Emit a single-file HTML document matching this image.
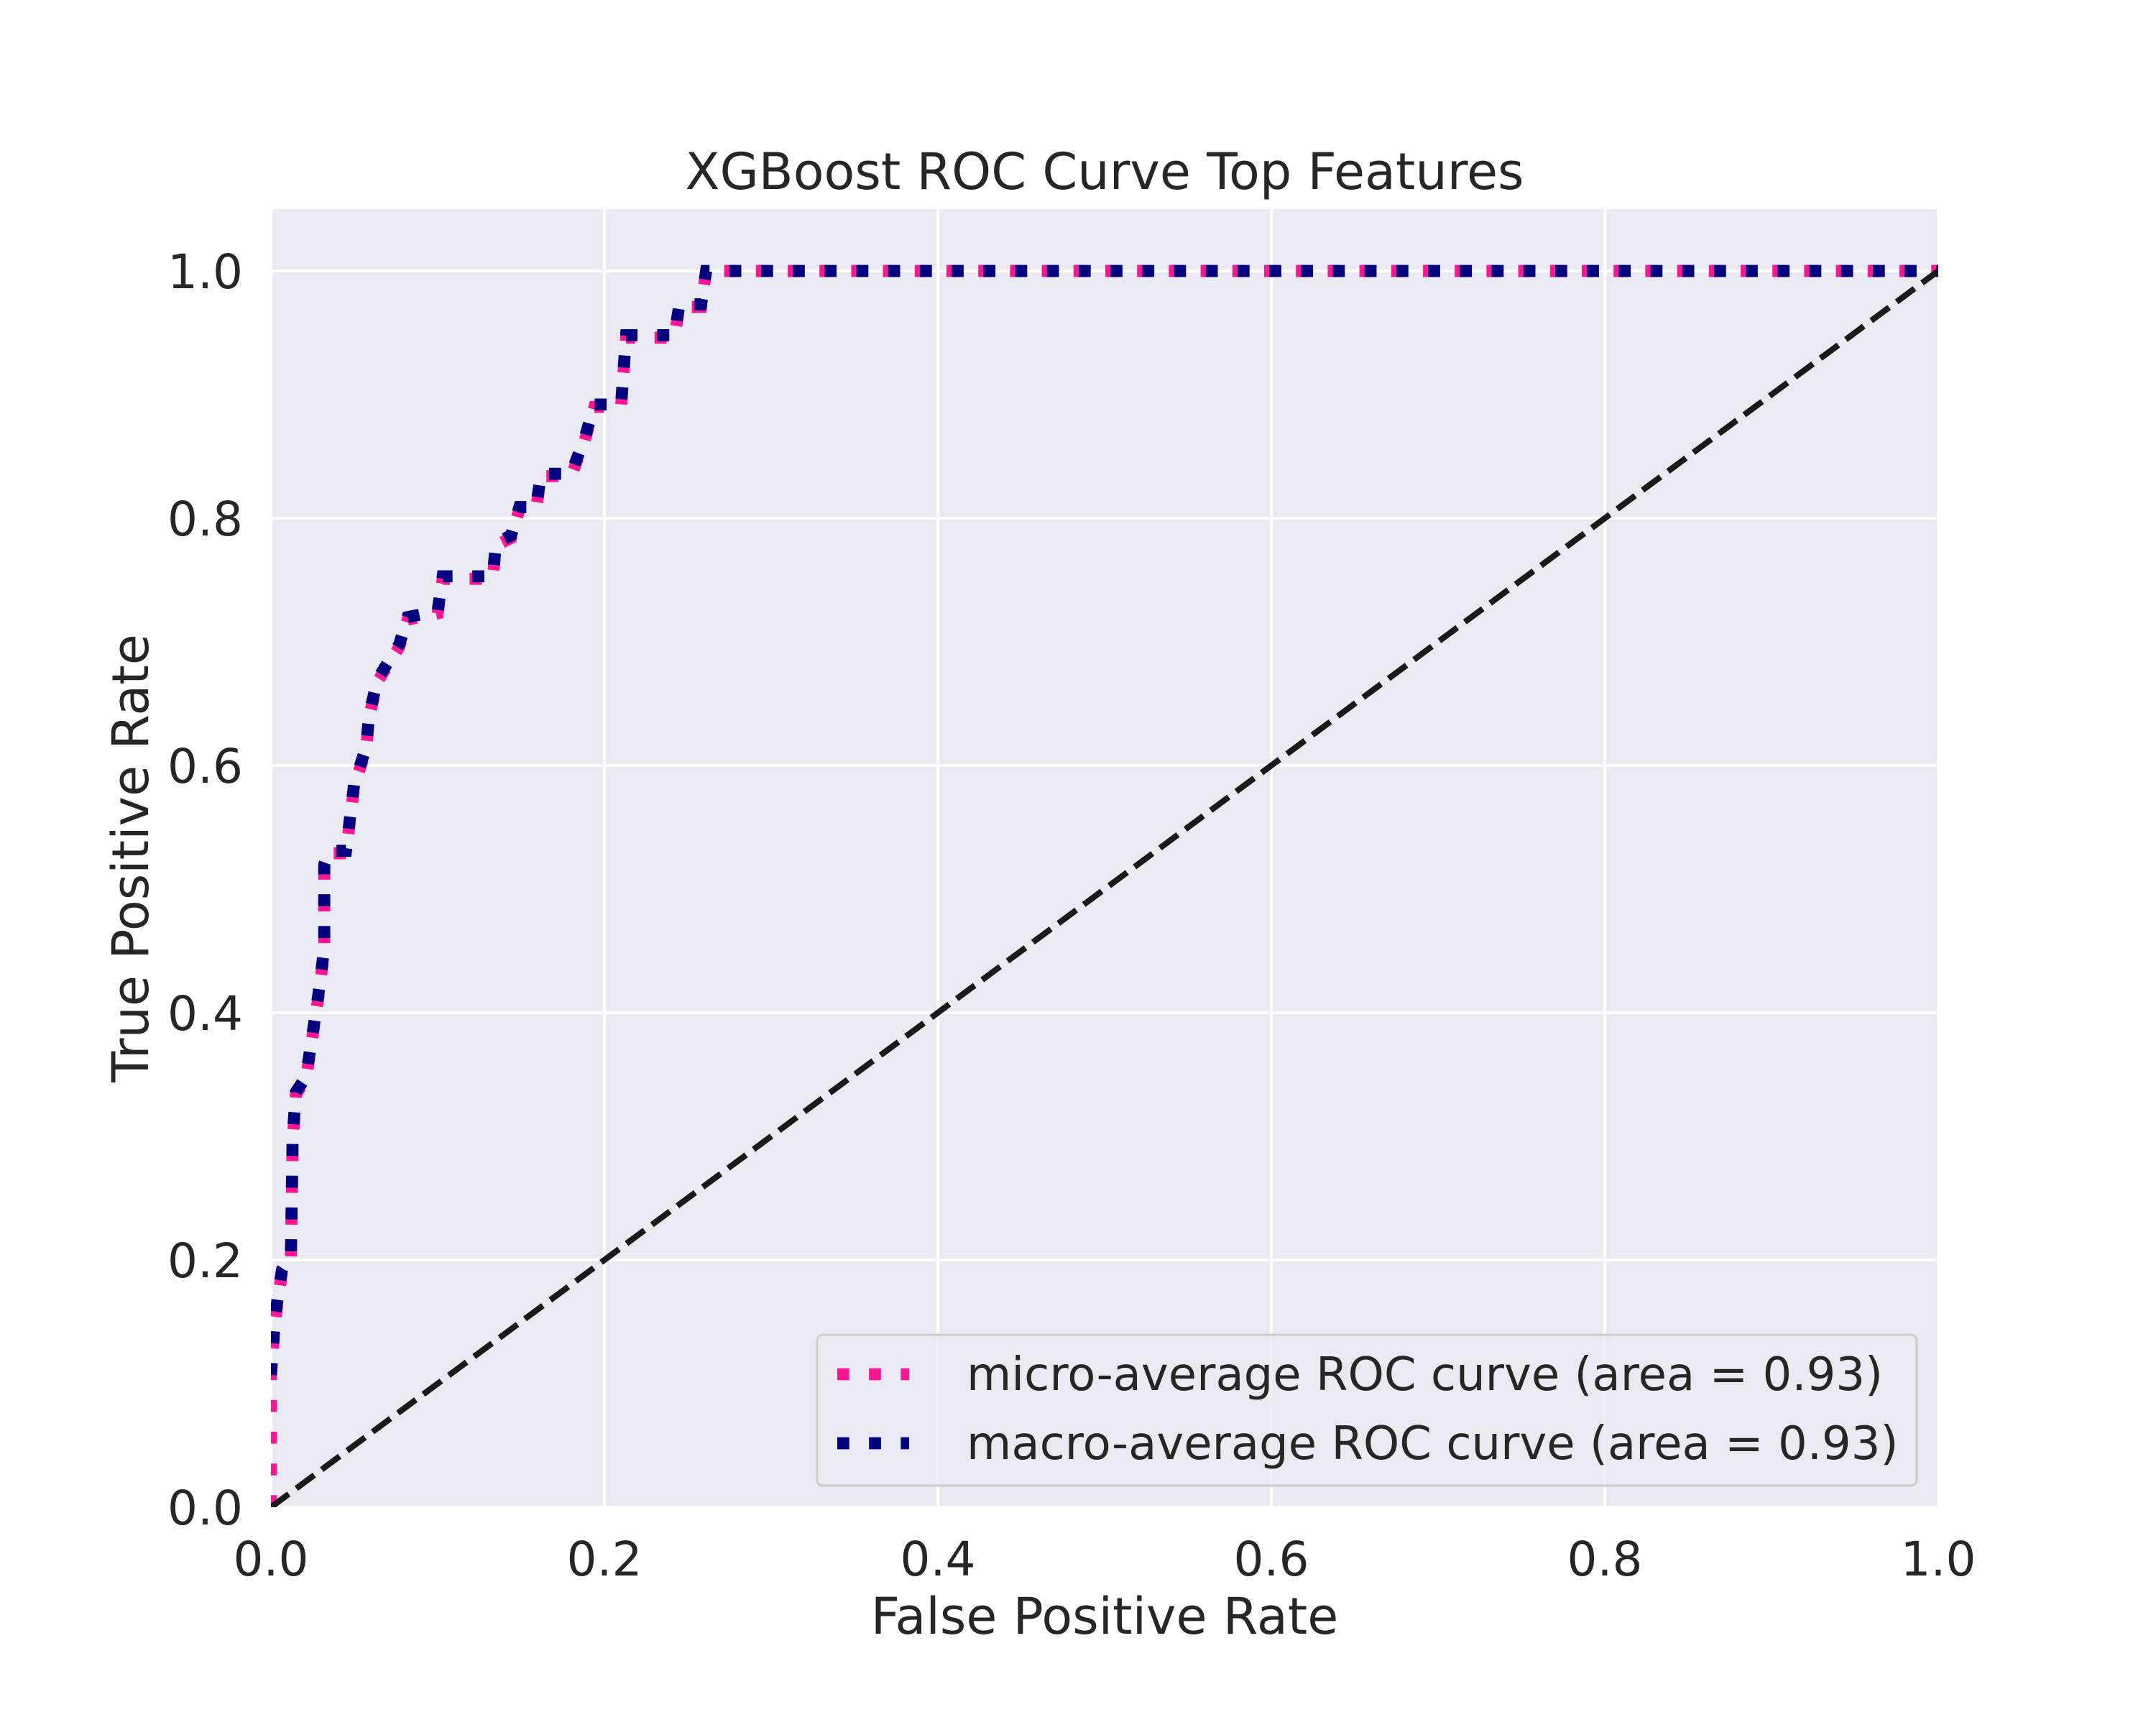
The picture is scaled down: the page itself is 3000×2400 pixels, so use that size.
<!DOCTYPE html>
<html><head><meta charset="utf-8"><style>
html,body{margin:0;padding:0;background:#fff;}
svg{display:block;font-family:"DejaVu Sans","Liberation Sans",sans-serif;}
</style></head><body>
<svg id="chart" width="3000" height="2400" viewBox="0 0 3000 2400" xmlns="http://www.w3.org/2000/svg">
<defs><clipPath id="plotclip"><rect x="377" y="291" width="2320" height="1806"/></clipPath></defs>
<rect x="0" y="0" width="3000" height="2400" fill="#fff"/>
<rect x="377" y="291" width="2320" height="1806" fill="#eaeaf2"/>
<g id="grid"></g>
<g id="ticks"></g>
<g id="series" clip-path="url(#plotclip)"></g>
<text x="1537" y="263" font-size="70" text-anchor="middle" fill="#262626">XGBoost ROC Curve Top Features</text>
<text x="1537" y="2273" font-size="70" text-anchor="middle" fill="#262626">False Positive Rate</text>
<text transform="translate(206,1194) rotate(-90)" font-size="70" text-anchor="middle" fill="#262626">True Positive Rate</text>
<g>
<rect x="1137" y="1857" width="1530" height="210" rx="8" fill="#eaeaf2" stroke="#cccccc" stroke-width="3" fill-opacity="0.8"/>
<g>
<line x1="1165" y1="1912" x2="1265" y2="1912" stroke="#ff1493" stroke-width="16.7" stroke-dasharray="16.7 27.5"/>
<text x="1345" y="1934" font-size="64" fill="#262626">micro-average ROC curve (area = 0.93)</text>
</g>
<g>
<line x1="1165" y1="2008" x2="1265" y2="2008" stroke="#000080" stroke-width="16.7" stroke-dasharray="16.7 27.5"/>
<text x="1345" y="2030" font-size="64" fill="#262626">macro-average ROC curve (area = 0.93)</text>
</g>
</g>
</svg>
<script>
const xTicks = [0, 0.2, 0.4, 0.6, 0.8, 1.0];
const yTicks = [0, 0.2, 0.4, 0.6, 0.8, 1.0];
const xTickLabels = ["0.0","0.2","0.4","0.6","0.8","1.0"];
const yTickLabels = ["0.0","0.2","0.4","0.6","0.8","1.0"];
const microFpr = [0,0,0.0025,0.0066,0.012,0.013,0.015,0.021,0.026,0.029,0.032,0.032,0.035,0.045,0.05,0.057,0.059,0.064,0.077,0.082,0.1,0.103,0.133,0.135,0.144,0.149,0.159,0.162,0.18,0.188,0.194,0.21,0.213,0.242,0.245,0.258,0.261,1.0];
const microTpr = [0,0.107,0.151,0.19,0.201,0.296,0.334,0.346,0.39,0.418,0.451,0.518,0.529,0.529,0.584,0.612,0.64,0.668,0.696,0.718,0.723,0.751,0.751,0.778,0.784,0.807,0.807,0.834,0.834,0.862,0.89,0.89,0.946,0.946,0.971,0.971,1.0,1.0];
const macroFpr = [0,0.0025,0.0066,0.012,0.013,0.015,0.021,0.026,0.029,0.032,0.032,0.035,0.045,0.05,0.057,0.059,0.064,0.077,0.082,0.1,0.103,0.133,0.135,0.144,0.149,0.159,0.162,0.18,0.188,0.194,0.21,0.213,0.242,0.245,0.258,0.261,1.0];
const macroTpr = [0.107,0.155,0.192,0.203,0.3,0.336,0.348,0.392,0.42,0.453,0.52,0.531,0.531,0.586,0.614,0.642,0.67,0.698,0.72,0.725,0.753,0.753,0.78,0.786,0.809,0.809,0.836,0.836,0.864,0.892,0.892,0.948,0.948,0.973,0.973,1.0,1.0];
const diagX = [0, 1];
const diagY = [0, 1];

const NS = "http://www.w3.org/2000/svg";
const X0 = 377, W = 2320, Y0 = 2097, H = 1806, YMAX = 1.05;
function sx(v){ return X0 + v * W; }
function sy(v){ return Y0 - v / YMAX * H; }
function mk(tag, attrs, parent){
  const e = document.createElementNS(NS, tag);
  for (const k in attrs) e.setAttribute(k, attrs[k]);
  parent.appendChild(e);
  return e;
}
const grid = document.getElementById('grid');
const ticks = document.getElementById('ticks');
const series = document.getElementById('series');
xTicks.forEach((t, i) => {
  const l = mk('line', {x1: sx(t), x2: sx(t), y1: 291, y2: 2097, stroke: '#fff', 'stroke-width': 4}, grid);
  
  
  const tx = mk('text', {x: sx(t), y: 2192, 'font-size': 66, 'text-anchor': 'middle', fill: '#262626'}, ticks);
  tx.textContent = xTickLabels[i];
  
  
});
yTicks.forEach((t, i) => {
  const l = mk('line', {x1: 377, x2: 2697, y1: sy(t), y2: sy(t), stroke: '#fff', 'stroke-width': 4}, grid);
  
  
  const tx = mk('text', {x: 338, y: sy(t) + 24, 'font-size': 66, 'text-anchor': 'end', fill: '#262626'}, ticks);
  tx.textContent = yTickLabels[i];
  
  
});
function pathFrom(xs, ys){
  return xs.map((v, i) => (i ? 'L' : 'M') + sx(v).toFixed(1) + ' ' + sy(ys[i]).toFixed(1)).join(' ');
}
const micro = mk('path', {d: pathFrom(microFpr, microTpr), fill: 'none', stroke: '#ff1493', 'stroke-width': 16.7, 'stroke-dasharray': '16.7 27.5'}, series);


const macro = mk('path', {d: pathFrom(macroFpr, macroTpr), fill: 'none', stroke: '#000080', 'stroke-width': 16.7, 'stroke-dasharray': '16.7 27.5'}, series);


const diag = mk('path', {d: pathFrom(diagX, diagY), fill: 'none', stroke: '#1a1a1a', 'stroke-width': 8.3, 'stroke-dasharray': '31 13'}, series);


</script>
</body></html>
